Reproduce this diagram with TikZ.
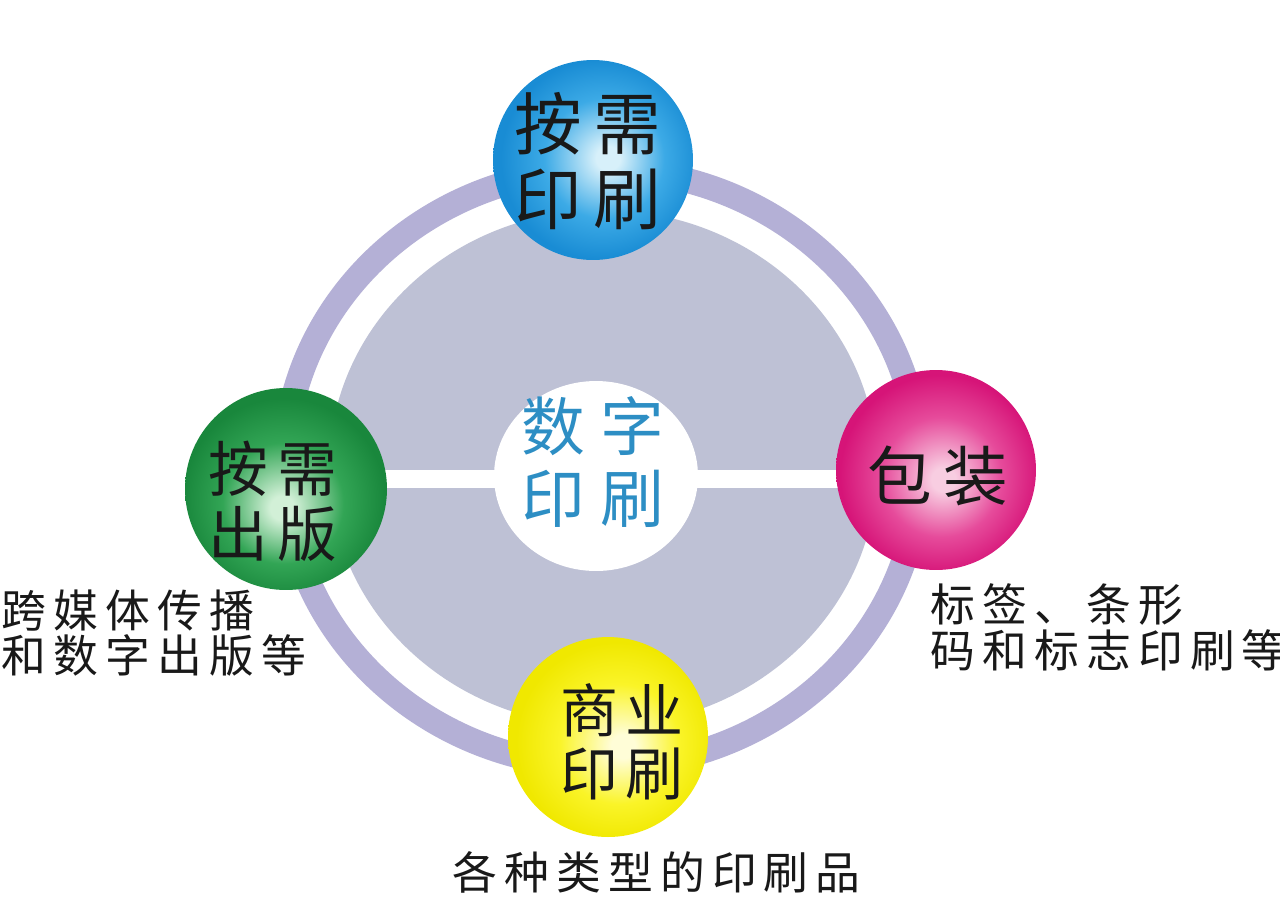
\documentclass[tikz,border=0pt]{standalone}
\usepackage{fontspec}
\newfontfamily\cjk{Noto Sans CJK SC}
\usetikzlibrary{shapes.geometric}
\makeatletter
\newcommand\spc[2]{\@tfor\spc@c:=#2\do{\makebox[#1]{\spc@c}}}
\makeatother
\definecolor{ringc}{RGB}{180,176,214}
\definecolor{discc}{RGB}{190,193,213}
\definecolor{txtblue}{RGB}{45,142,196}
\definecolor{inkc}{RGB}{25,25,25}
\definecolor{bluehi}{RGB}{215,240,250}
\definecolor{bluemid}{RGB}{60,170,230}
\definecolor{blueout}{RGB}{25,140,212}
\definecolor{greenhi}{RGB}{210,240,215}
\definecolor{greenmid}{RGB}{50,165,85}
\definecolor{greenout}{RGB}{25,135,60}
\definecolor{pinkhi}{RGB}{248,205,225}
\definecolor{pinkmid}{RGB}{230,75,155}
\definecolor{pinkout}{RGB}{214,20,120}
\definecolor{yellowhi}{RGB}{255,253,215}
\definecolor{yellowmid}{RGB}{250,244,40}
\definecolor{yellowout}{RGB}{240,232,0}
\pgfdeclareradialshading{sblue}{\pgfpoint{4bp}{0.5bp}}{color(0bp)=(bluehi); color(3bp)=(bluehi); color(15bp)=(bluemid); color(25bp)=(blueout); color(50bp)=(blueout)}
\pgfdeclareradialshading{sgreen}{\pgfpoint{-1bp}{-5bp}}{color(0bp)=(greenhi); color(3bp)=(greenhi); color(15bp)=(greenmid); color(25bp)=(greenout); color(50bp)=(greenout)}
\pgfdeclareradialshading{spink}{\pgfpoint{2bp}{-2.5bp}}{color(0bp)=(pinkhi); color(3bp)=(pinkhi); color(15bp)=(pinkmid); color(25bp)=(pinkout); color(50bp)=(pinkout)}
\pgfdeclareradialshading{syellow}{\pgfpoint{4bp}{-2.5bp}}{color(0bp)=(yellowhi); color(3bp)=(yellowhi); color(15bp)=(yellowmid); color(25bp)=(yellowout); color(50bp)=(yellowout)}
\begin{document}
\begin{tikzpicture}[x=0.02cm,y=-0.02cm,
  ball/.style={circle, minimum size=4cm, inner sep=0pt, shade},
  balltext/.style={inner sep=0pt, align=center, text=inkc},
  note/.style={inner sep=0pt, align=left, anchor=west, text=inkc, font=\cjk\fontsize{25.5pt}{26pt}\selectfont}]
\useasboundingbox (0,0) rectangle (1280,897);
\fill[white] (0,0) rectangle (1280,897);
\coordinate (o) at (602,468);
\draw[ringc, line width=0.5cm] (o) ellipse [x radius=6.35cm, y radius=5.97cm];
\node[ellipse, fill=discc, minimum width=10.96cm, minimum height=10.32cm, inner sep=0pt] (disc) at (603,468) {};
\coordinate (barL) at (300,479);
\coordinate (barR) at (920,479);
\draw[white, line width=0.36cm] (barL) -- (barR);
\node[ellipse, fill=white, minimum width=4.08cm, minimum height=3.8cm, inner sep=0pt] (core) at (596,476) {};
\node[ball, shading=sblue] (b1) at (593,160) {};
\node[ball, shading=sgreen, minimum size=4.04cm] (b2) at (286,489) {};
\node[ball, shading=spink] (b3) at (936,470) {};
\node[ball, shading=syellow] (b4) at (608,737) {};
\node[balltext, font=\cjk\fontsize{38.5pt}{42.5pt}\selectfont] (t1) at (588,161) {\spc{44.8pt}{按需}\\\spc{44.8pt}{印刷}};
\node[balltext, font=\cjk\fontsize{34pt}{36.8pt}\selectfont] (t2) at (273,501) {\spc{39.7pt}{按需}\\\spc{39.7pt}{出版}};
\node[balltext, font=\cjk\fontsize{36.8pt}{40pt}\selectfont] (t3) at (938,476) {\spc{43.6pt}{包装}};
\node[balltext, font=\cjk\fontsize{33pt}{35.7pt}\selectfont] (t4) at (622,742) {\spc{37.4pt}{商业}\\\spc{37.4pt}{印刷}};
\node[balltext, text=txtblue, font=\cjk\fontsize{36.3pt}{40.8pt}\selectfont] (tc) at (593,462) {\spc{44.8pt}{数字}\\\spc{44.8pt}{印刷}};
\node[note] (n1) at (-2,633) {\spc{29.5pt}{跨媒体传播}\\\spc{29.5pt}{和数字出版等}};
\node[note] (n2) at (927,627) {\spc{29.5pt}{标签、条形}\\\spc{29.5pt}{码和标志印刷等}};
\node[note] (n3) at (449,872) {\spc{29.5pt}{各种类型的印刷品}};
\end{tikzpicture}
\end{document}
